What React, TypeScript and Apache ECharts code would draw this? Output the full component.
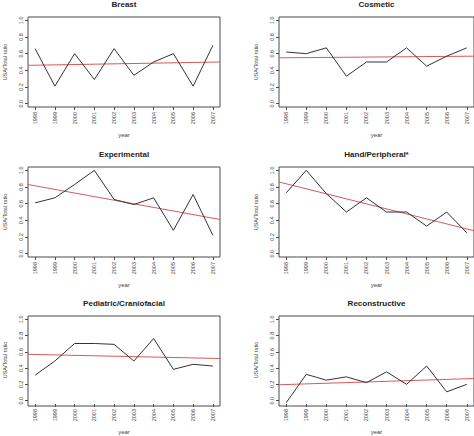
import { useEffect, useRef } from "react";
import * as echarts from "echarts";

const years = ["1998", "1999", "2000", "2001", "2002", "2003", "2004", "2005", "2006", "2007"];

const breast = [0.66, 0.21, 0.6, 0.29, 0.66, 0.34, 0.5, 0.6, 0.21, 0.7];
const cosmetic = [0.62, 0.6, 0.67, 0.33, 0.5, 0.5, 0.67, 0.45, 0.57, 0.67];
const experimental = [0.61, 0.67, 0.83, 1.0, 0.65, 0.59, 0.67, 0.28, 0.71, 0.22];
const hand = [0.73, 1.0, 0.72, 0.5, 0.67, 0.5, 0.5, 0.33, 0.5, 0.25];
const pediatric = [0.33, 0.5, 0.71, 0.71, 0.7, 0.5, 0.77, 0.4, 0.46, 0.44];
const reconstructive = [0.0, 0.34, 0.27, 0.31, 0.24, 0.37, 0.22, 0.44, 0.13, 0.22];

const panelTitles = [
  "Breast",
  "Cosmetic",
  "Experimental",
  "Hand/Peripheral*",
  "Pediatric/Craniofacial",
  "Reconstructive",
];
const panelValues = [breast, cosmetic, experimental, hand, pediatric, reconstructive];

// red fitted line, read at the left and right edges of each plot box
const trendLeft = [0.46, 0.55, 0.83, 0.86, 0.58, 0.215];
const trendRight = [0.5, 0.57, 0.41, 0.275, 0.53, 0.29];

const yTicks = ["0.0", "0.2", "0.4", "0.6", "0.8", "1.0"];

const colLeft = [28, 279];
const colWidth = [192, 195];
const rowTop = [17, 167, 316];
const boxHeight = 90;

const FONT = "Liberation Sans";
const TEXT = "#444";
const AXIS = "#4a4a4a";

export default function App() {
  const ref = useRef<HTMLDivElement>(null);

  useEffect(() => {
    if (!ref.current) return;
    const chart = echarts.init(ref.current, undefined, { renderer: "svg" });

    const span = Number(years[years.length - 1]) - Number(years[0]);
    const xMin = Number(years[0]) - 0.04 * span;
    const xMax = Number(years[years.length - 1]) + 0.04 * span;

    const grid: any[] = [];
    const xAxis: any[] = [];
    const yAxis: any[] = [];
    const series: any[] = [];
    const title: any[] = [];

    const tickLabel = {
      interval: 0,
      rotate: 90,
      fontFamily: FONT,
      fontSize: 5.5,
      color: TEXT,
    };

    panelTitles.forEach((name, i) => {
      const col = i % 2;
      const row = Math.floor(i / 2);
      const left = colLeft[col];
      const width = colWidth[col];
      const top = rowTop[row];
      const insetX = (width * 0.04) / 1.08;
      const insetY = (boxHeight * 0.04) / 1.08;

      // outer box, carries the data
      grid.push({
        left,
        top,
        width,
        height: boxHeight,
        show: true,
        borderColor: AXIS,
        borderWidth: 1,
        backgroundColor: "transparent",
      });
      // inner region, carries the ticks and labels
      grid.push({
        left: left + insetX,
        top: top + insetY,
        width: width - 2 * insetX,
        height: boxHeight - 2 * insetY,
      });

      xAxis.push({
        type: "value",
        gridIndex: 2 * i,
        min: xMin,
        max: xMax,
        show: false,
      });
      yAxis.push({
        type: "value",
        gridIndex: 2 * i,
        min: -0.04,
        max: 1.04,
        show: false,
      });

      xAxis.push({
        type: "category",
        gridIndex: 2 * i + 1,
        data: years,
        boundaryGap: false,
        offset: insetY,
        name: "year",
        nameLocation: "middle",
        nameGap: 25,
        nameTextStyle: { fontFamily: FONT, fontSize: 6, color: TEXT },
        axisLine: { show: false },
        axisTick: { show: true, length: 3, lineStyle: { color: AXIS } },
        axisLabel: { ...tickLabel, margin: 5 },
        splitLine: { show: false },
      });
      yAxis.push({
        type: "category",
        gridIndex: 2 * i + 1,
        data: yTicks,
        boundaryGap: false,
        offset: insetX,
        name: "USA/Total ratio",
        nameLocation: "middle",
        nameGap: 20,
        nameTextStyle: { fontFamily: FONT, fontSize: 5.5, color: TEXT },
        axisLine: { show: false },
        axisTick: { show: true, length: 3, lineStyle: { color: AXIS } },
        axisLabel: { ...tickLabel, margin: 4 },
        splitLine: { show: false },
      });

      series.push({
        type: "line",
        xAxisIndex: 2 * i,
        yAxisIndex: 2 * i,
        data: years.map((y, j) => [Number(y), panelValues[i][j]]),
        symbol: "none",
        lineStyle: { color: "#333", width: 1 },
        silent: true,
        z: 3,
      });
      series.push({
        type: "line",
        xAxisIndex: 2 * i,
        yAxisIndex: 2 * i,
        data: [
          [xMin, trendLeft[i]],
          [xMax, trendRight[i]],
        ],
        symbol: "none",
        lineStyle: { color: "#d85a5a", width: 1 },
        silent: true,
        z: 2,
      });

      title.push({
        text: name,
        left: left + width / 2,
        top: top - 17,
        textAlign: "center",
        padding: 0,
        textStyle: { fontFamily: FONT, fontSize: 8, fontWeight: "bold", color: "#222" },
      });
    });

    chart.setOption({
      animation: false,
      backgroundColor: "#fff",
      title,
      grid,
      xAxis,
      yAxis,
      series,
    });

    return () => chart.dispose();
  }, []);

  return (
    <div
      ref={ref}
      style={{ position: "fixed", left: 0, top: 0, width: "474px", height: "436px" }}
    />
  );
}
